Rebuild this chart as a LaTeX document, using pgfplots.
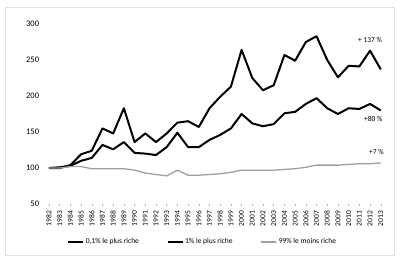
\documentclass[border=0pt]{standalone}
\usepackage{pgfplots}
\usepackage{pgfplotstable}
\pgfplotsset{compat=1.18}
\usepackage{fontspec}
\setmainfont{Carlito}
\pgfplotstableread{
year a b c
1982 100 100 100
1983 100 101 100
1984 104 103 102
1985 119 110 102
1986 124 114 99
1987 155 132 99
1988 148 126 99
1989 183 136 99
1990 136 121 97
1991 148 120 93
1992 136 118 91
1993 148 129 89
1994 163 149 97
1995 165 129 90
1996 157 129 90
1997 183 139 91
1998 199 146 92
1999 213 155 94
2000 264 175 97
2001 225 162 97
2002 208 158 97
2003 215 161 97
2004 257 176 98
2005 249 178 99
2006 275 189 101
2007 283 197 104
2008 250 183 104
2009 226 175 104
2010 242 183 105
2011 241 182 106
2012 263 189 106
2013 237 180 107
}\datatable
\begin{document}
\begin{tikzpicture}
\path[use as bounding box] (0pt,0pt) rectangle (401pt,260pt);
\draw[gray!25, line width=0.6pt] (5pt,5pt) rectangle (394pt,253pt);
\begin{axis}[
  at={(43.6pt,56pt)}, anchor=south west,
  scale only axis, width=342.5pt, height=180pt,
  xmin=1981.5, xmax=2013.5, ymin=50, ymax=300,
  ytick={50,100,150,200,250,300},
  xtick={1982,...,2013},
  /pgf/number format/assume math mode=true,
  /pgf/number format/1000 sep={},
  axis lines*=left,
  y axis line style={draw=none},
  x axis line style={draw=none},
  ytick style={draw=none},
  xtick style={gray!60, thin},
  tick align=outside, major tick length=2pt,
  yticklabel style={font=\fontsize{8.5}{9}\selectfont, xshift=1pt},
  xticklabel style={font=\fontsize{7.5}{8}\selectfont, rotate=90, anchor=east, xshift=-1.5pt},
  clip=false,
  legend columns=3,
  legend style={draw=none, fill=none, at={(0.465,-0.211)}, anchor=center,
    font=\fontsize{7.5}{8}\selectfont, inner sep=0pt,
    /tikz/every even column/.append style={column sep=26pt}},
  legend image code/.code={\draw[#1, line width=1.2pt] (0pt,0pt) -- (15pt,0pt);},
]
\addplot[black, line width=2pt, line join=round] table[x=year,y=a] {\datatable};
\addlegendentry{0,1\% le plus riche}
\addplot[black, line width=2pt, line join=round] table[x=year,y=b] {\datatable};
\addlegendentry{1\% le plus riche}
\addplot[gray!75, line width=1.3pt, line join=round] table[x=year,y=c] {\datatable};
\addlegendentry{99\% le moins riche}
\node[font=\fontsize{7.5}{8}\selectfont] at (axis cs:2012.0,277.8) {+ 137 \%};
\node[font=\fontsize{7.5}{8}\selectfont] at (axis cs:2012.3,168) {+80 \%};
\node[font=\fontsize{7.5}{8}\selectfont] at (axis cs:2012.6,122) {+7 \%};
\end{axis}
\end{tikzpicture}
\end{document}
